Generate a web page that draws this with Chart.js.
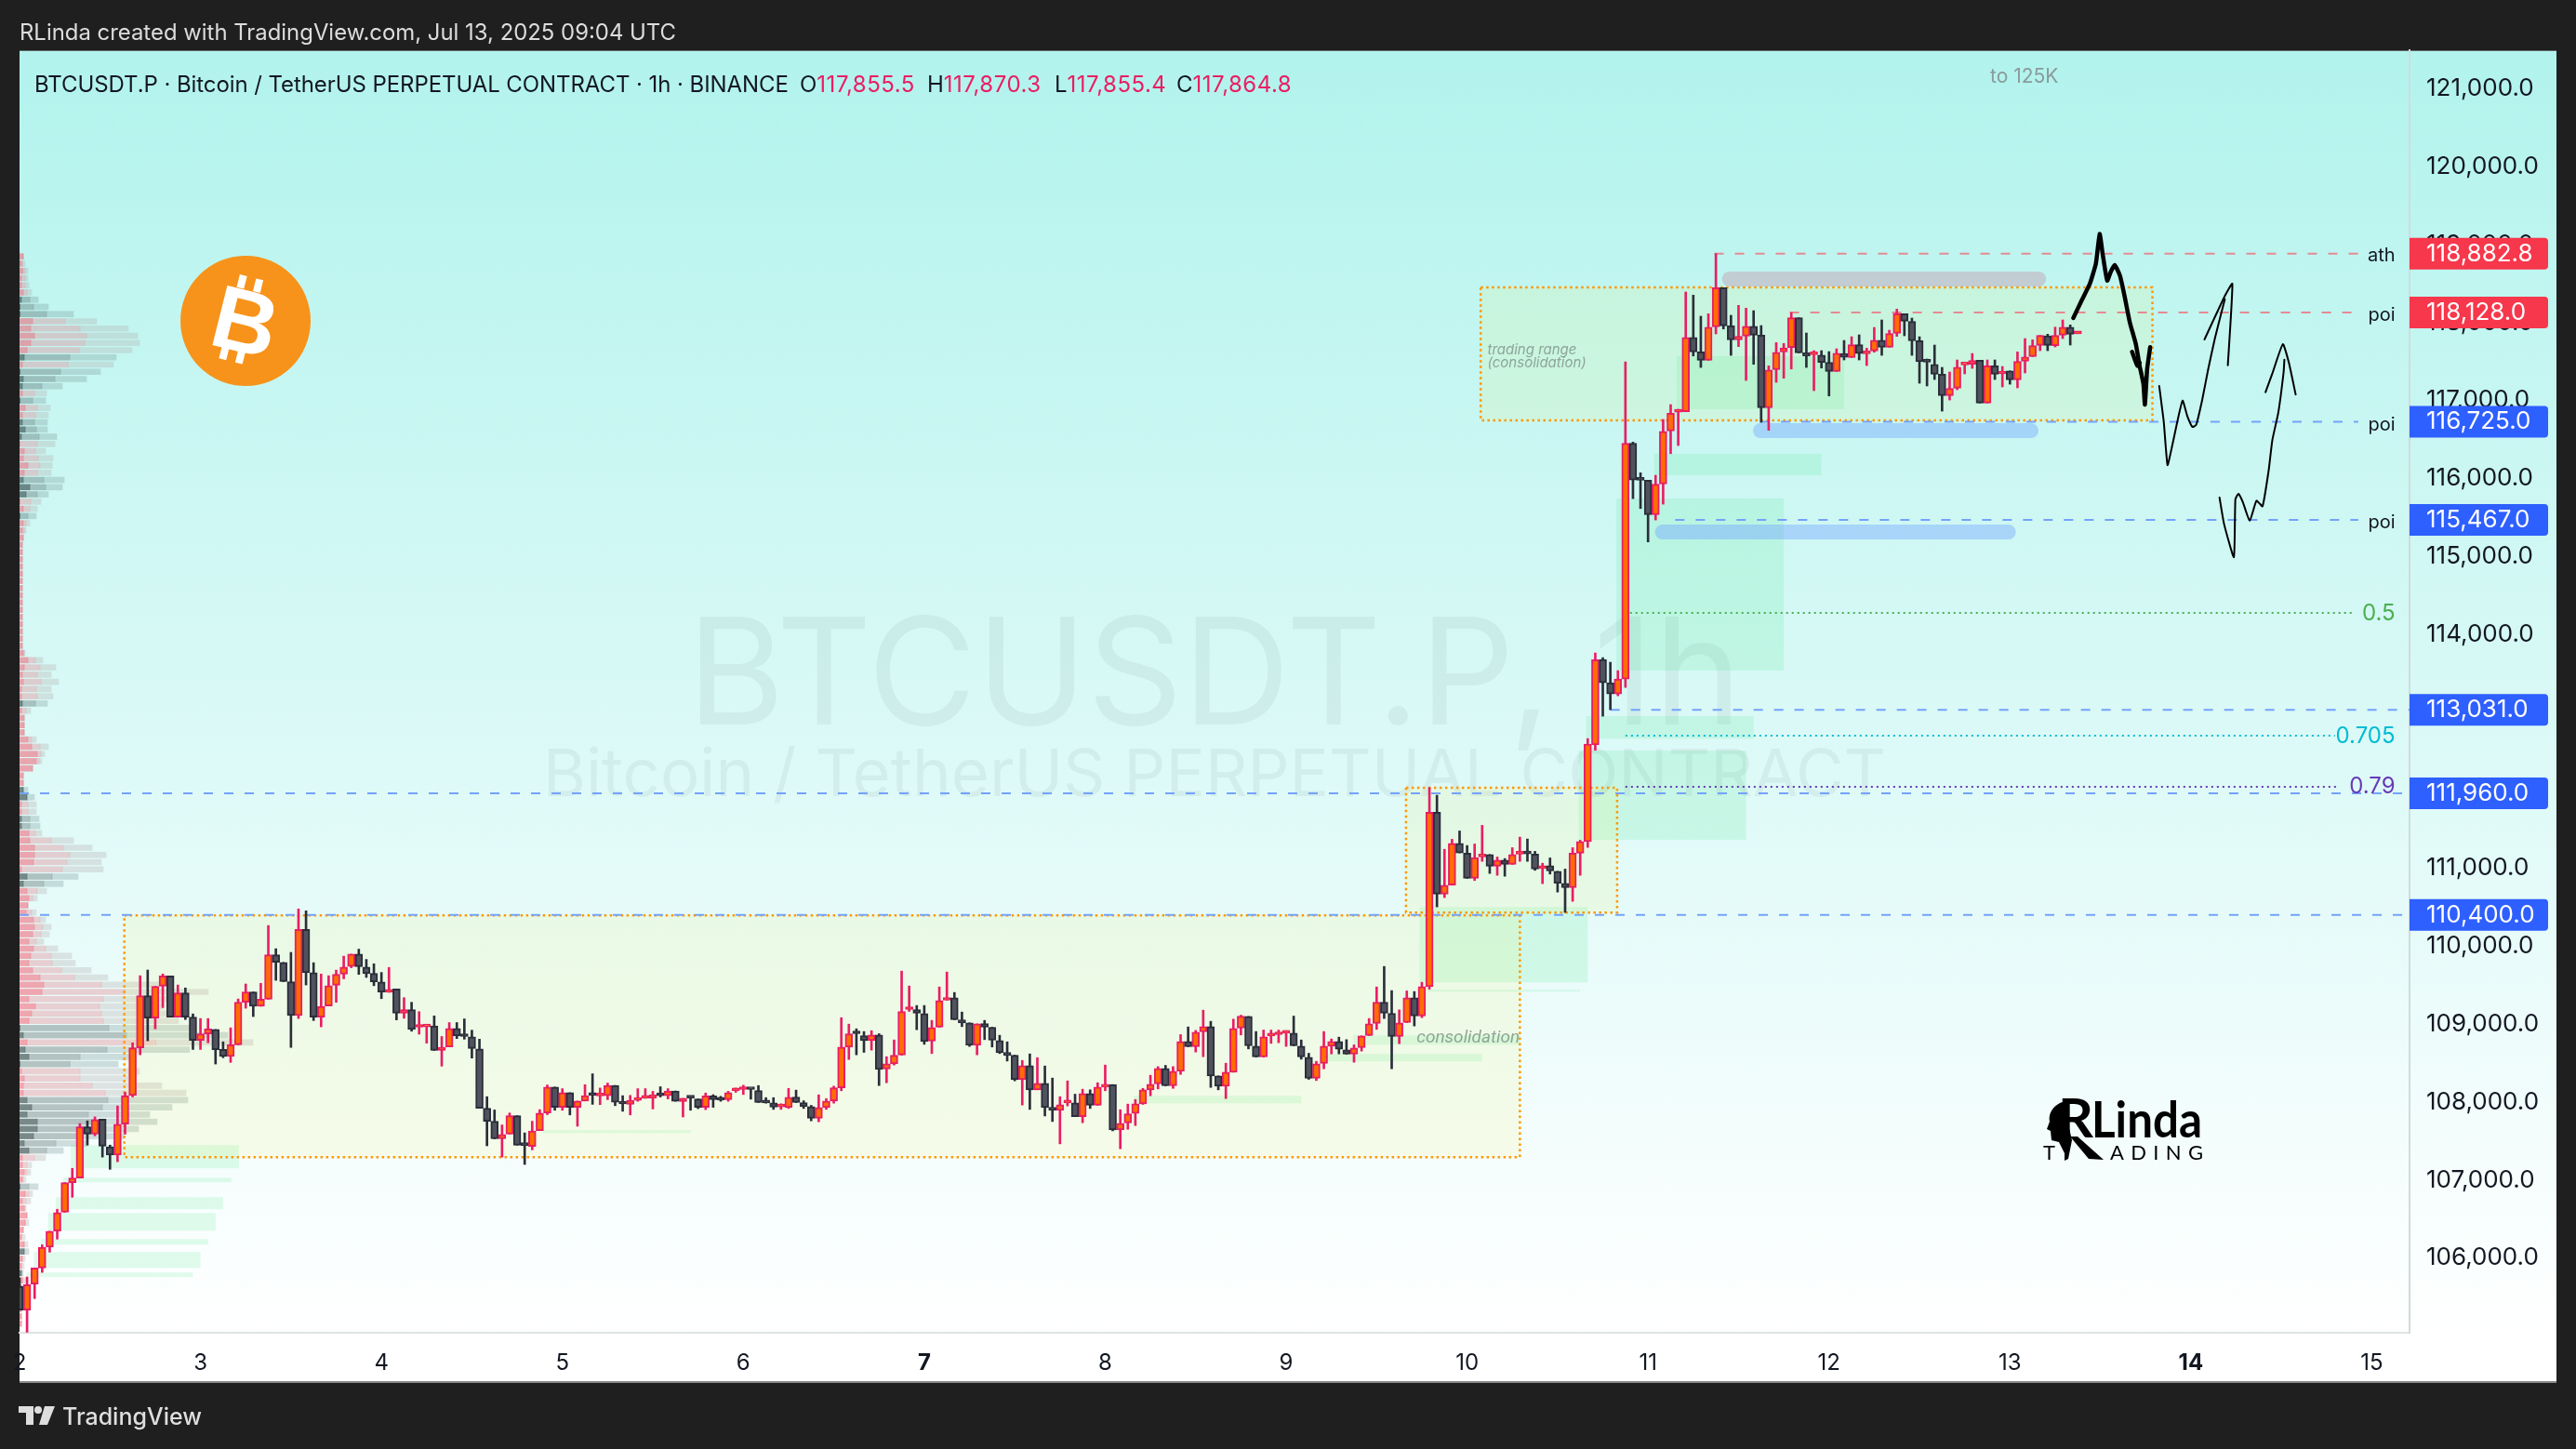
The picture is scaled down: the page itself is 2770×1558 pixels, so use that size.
<!DOCTYPE html>
<html>
<head>
<meta charset="utf-8">
<title>BTCUSDT.P 1h</title>
<script src="https://cdn.jsdelivr.net/npm/chart.js@4/dist/chart.umd.min.js"></script>
<style>
  html, body { margin: 0; padding: 0; background: #1f1f1f; width: 2770px; height: 1558px; overflow: hidden; font-family: Inter, sans-serif; }
  #panel { position: absolute; left: 21px; top: 54px; width: 2728px; height: 1433px; background: linear-gradient(#b2f3ed 0, #ffffff 1378px, #ffffff 100%); border-top: 1px solid #5d6a6a; box-sizing: border-box; border-bottom: 2px solid #8a8a8a; }
  canvas { position: absolute; left: 0; top: 0; }
  #header { position: absolute; left: 21px; top: 20px; color: #dcdcdc; font-size: 23.9px; white-space: nowrap; }
  #title { position: absolute; top: 76px; font-size: 24px; color: #131722; white-space: nowrap; }
  #title span { position: absolute; top: 0; white-space: nowrap; }
  .pink { color: #e91e63; font-weight: 400; letter-spacing: 0.5px; }
  #footer { position: absolute; left: 67px; top: 1508px; color: #dedede; font-size: 25px; font-weight: 500; white-space: nowrap; }
  svg { position: absolute; left: 0; top: 0; }
</style>
</head>
<body>
<div id="panel"></div>
<canvas id="profile" width="2770" height="1558"></canvas>
<canvas id="main" width="2770" height="1558"></canvas>

<div id="header">RLinda created with TradingView.com, Jul 13, 2025 09:04 UTC</div>
<div id="title">
  <span style="left:37px;letter-spacing:-0.08px">BTCUSDT.P · Bitcoin / TetherUS PERPETUAL CONTRACT · 1h · BINANCE</span>
  <span style="left:860px">O<b class="pink">117,855.5</b></span>
  <span style="left:997px">H<b class="pink">117,870.3</b></span>
  <span style="left:1134px">L<b class="pink">117,855.4</b></span>
  <span style="left:1265px">C<b class="pink">117,864.8</b></span>
</div>
<div id="footer">TradingView</div>

<svg width="2770" height="1558" viewBox="0 0 2770 1558">
  <!-- bitcoin badge -->
  <circle cx="264" cy="345" r="70" fill="#f7931a"/>
  <g transform="rotate(14 264 345)" fill="#fff">
    <text x="264" y="379" text-anchor="middle" font-family="Liberation Sans" font-weight="bold" font-size="96">B</text>
    <rect x="246" y="298" width="8" height="14"/><rect x="264" y="298" width="8" height="14"/>
    <rect x="246" y="377" width="8" height="14"/><rect x="264" y="377" width="8" height="14"/>
  </g>
  <!-- tradingview mark -->
  <path d="M20 1512H36V1519H36V1532H28V1519H20Z M48 1512L59 1512L51 1532L42 1532Z" fill="#dedede"/>
  <circle cx="41" cy="1516" r="4" fill="#dedede"/>
  <!-- rlinda mark -->
  <g fill="#000">
    <path d="M2222 1184C2208 1186 2202 1198 2204 1206L2201 1214L2205 1216L2206 1226L2214 1228L2220 1240L2220 1248L2224 1246L2228 1226L2222 1200Z"/>
    <text x="2213" y="1223" font-family="Lato" font-weight="bold" font-size="58" textLength="38" lengthAdjust="spacingAndGlyphs">R</text>
    <path d="M2226 1222L2234 1222L2262 1247L2246 1246Z"/>
    <text x="2249" y="1223" font-family="Lato" font-weight="bold" font-size="54" textLength="119" lengthAdjust="spacingAndGlyphs">Linda</text>
    <text x="2197" y="1247" font-family="Lato" font-size="22">T</text>
    <text x="2269" y="1247" font-family="Lato" font-size="22" textLength="100">ADING</text>
  </g>
</svg>

<script>
// --- candles, one per hour from Jul 2 00:00 UTC ---
const opens = [
  105635,105329,105665,105870,106138,106343,106586,106965,107025,107681,
  107587,107779,107426,107319,107715,108082,108696,109365,109075,109484,
  109616,109088,109399,109088,108789,108875,108930,108674,108585,108734,
  109279,109412,109228,109318,109889,109791,109544,109109,110213,109659,
  109088,109232,109496,109641,109739,109897,109731,109650,109539,109407,
  109449,109138,109185,108959,108963,108976,108661,108708,108942,108848,
  108836,108682,107919,107753,107527,107587,107825,107450,107429,107634,
  107859,108192,107932,108119,107932,108013,108094,108077,108081,108213,
  107983,107970,108021,108047,108051,108090,108081,108141,108005,108060,
  108039,107932,108077,108034,108030,108145,108160,108171,108148,108001,
  107989,107937,107929,108064,107993,107941,107790,107929,108012,108183,
  108705,108888,108852,108788,108860,108422,108490,108601,109186,109186,
  109134,108780,108959,109305,109337,109055,109015,108728,109007,108959,
  108788,108637,108601,108287,108466,108156,108239,107933,107893,107989,
  107989,107813,108108,107957,108191,108223,107642,107730,107853,107977,
  108156,108231,108430,108207,108394,108776,108709,108900,108967,108335,
  108203,108382,108947,109098,108717,108577,108848,108864,108884,108884,
  108717,108573,108303,108494,108717,108776,108669,108613,108697,108852,
  109007,109281,109138,108840,109019,109337,109102,109480,111716,110666,
  110781,111318,111191,110869,111143,111175,111024,111103,111048,111179,
  111191,111179,110996,111032,110960,110805,110749,111191,111341,112582,
  113677,113378,113235,113426,116449,115987,115975,115534,115927,116608,
  116850,116854,117809,117622,117515,117944,118446,117956,117777,117825,
  117952,117837,116906,117395,117622,117678,118060,117610,117586,117582,
  117487,117371,117602,117550,117714,117598,117634,117773,117682,117861,
  118111,118012,117765,117503,117463,117336,117061,117157,117455,117463,
  117515,116966,117443,117340,117379,117264,117503,117562,117706,117829,
  117702,117837,117940,117855.5
];
const closes = [
  105329,105657,105870,106138,106343,106582,106965,107025,107681,107587,
  107775,107434,107319,107715,108082,108696,109365,109075,109484,109616,
  109088,109399,109088,108789,108875,108938,108670,108585,108734,109279,
  109412,109228,109318,109889,109791,109544,109109,110213,109659,109088,
  109228,109492,109637,109731,109897,109735,109645,109543,109411,109445,
  109138,109185,108929,108972,108976,108661,108703,108942,108848,108840,
  108686,107919,107753,107527,107582,107825,107446,107442,107629,107859,
  108192,107932,108119,107932,108013,108081,108085,108085,108213,107996,
  107975,108021,108038,108060,108094,108081,108141,108009,108047,108051,
  107932,108077,108030,108026,108119,108162,108175,108160,107993,107989,
  107933,107949,108060,107993,107941,107790,107929,108012,108183,108705,
  108876,108876,108788,108860,108418,108490,108601,109162,109198,109138,
  108776,108955,109301,109337,109055,109015,108728,109003,108959,108792,
  108633,108597,108287,108466,108156,108239,107929,107893,107965,108005,
  107813,108108,107957,108191,108223,107642,107726,107849,107977,108156,
  108227,108430,108207,108394,108776,108709,108896,108967,108335,108203,
  108382,108943,109102,108720,108577,108836,108864,108880,108900,108720,
  108577,108303,108490,108717,108776,108677,108613,108693,108848,109003,
  109281,109138,108840,109015,109337,109102,109480,111716,110666,110781,
  111318,111195,110869,111135,111175,111024,111103,111048,111175,111191,
  111183,110988,111028,110964,110805,110749,111191,111342,112591,113673,
  113378,113235,113426,116449,115979,115975,115534,115927,116604,116834,
  116862,117809,117622,117515,117940,118446,117956,117777,117821,117952,
  117837,116906,117391,117618,117674,118060,117610,117570,117598,117487,
  117371,117606,117554,117714,117602,117630,117773,117682,117857,118111,
  118016,117765,117495,117491,117336,117061,117153,117427,117467,117511,
  116966,117443,117336,117375,117264,117499,117558,117702,117833,117706,
  117833,117940,117849,117864.8
];
const highs = [
  105742,105755,105870,106168,106343,106624,106965,107148,107724,107758,
  107809,107779,107447,107950,108124,108759,109620,109693,109484,109642,
  109616,109501,109463,109130,109071,109071,108930,108772,108951,109322,
  109514,109412,109522,110264,109966,109791,109919,110477,110452,109787,
  109642,109620,109692,109871,109897,109961,109829,109773,109662,109726,
  109449,109338,109279,109159,108976,109104,108840,109019,109019,109066,
  108921,108806,108068,107898,107706,107859,107825,107604,107753,107902,
  108218,108192,108171,108119,108013,108222,108362,108179,108243,108213,
  108081,108085,108171,108171,108137,108196,108171,108141,108047,108073,
  108039,108115,108094,108073,108137,108179,108215,108171,108211,108056,
  108056,107977,108175,108152,108016,107957,108092,108044,108203,109082,
  108999,108939,108904,108915,108876,108581,108796,109679,109488,109238,
  109238,109047,109476,109667,109405,109154,109015,109003,109047,108959,
  108856,108772,108601,108533,108617,108569,108462,108307,108068,108271,
  108100,108164,108156,108247,108474,108223,107901,107973,108032,108175,
  108343,108454,108470,108454,108864,108963,108919,109178,109035,108335,
  108498,109063,109114,109098,108904,108923,108923,108923,108915,109102,
  108796,108625,108522,108904,108808,108832,108800,108733,108848,109071,
  109476,109739,109429,109182,109425,109417,109536,112034,111935,111242,
  111370,111477,111290,111310,111549,111175,111143,111123,111262,111398,
  111374,111215,111063,111131,110960,110988,111262,111358,112662,113760,
  113700,113641,113533,117495,116465,116071,115975,116039,116755,116946,
  116886,118390,118350,118080,118111,118883,118446,118092,118219,118183,
  118151,117960,117443,117741,117730,118127,118060,117865,117638,117638,
  117626,117662,117769,117817,117841,117670,117936,118032,117901,118171,
  118111,118056,117817,117531,117710,117423,117364,117519,117467,117602,
  117515,117519,117519,117435,117379,117622,117793,117777,117833,117849,
  117940,118032,117968,117870.3
];
const lows = [
  105329,105047,105478,105814,106074,106241,106586,106778,107025,107447,
  107566,107293,107136,107234,107587,108065,108606,108785,108938,109211,
  109088,109088,109058,108674,108674,108759,108487,108568,108508,108734,
  109203,109096,109228,109318,109561,109544,108700,109071,109501,109045,
  108964,109232,109279,109581,109722,109637,109598,109492,109326,109407,
  109053,109074,108908,108870,108755,108661,108460,108708,108814,108806,
  108563,107919,107438,107527,107293,107587,107446,107199,107386,107634,
  107838,107894,107894,107834,107689,108013,107970,107966,108030,107953,
  107881,107834,108009,108047,107911,108064,108039,108009,107808,107894,
  107915,107902,107932,108009,108009,108124,108096,108036,107993,107985,
  107905,107905,107917,107993,107917,107758,107746,107905,107985,108144,
  108545,108605,108637,108665,108211,108247,108474,108601,109162,108927,
  108740,108621,108959,109305,109055,108967,108713,108605,108800,108705,
  108621,108525,108271,107961,107905,108156,107821,107750,107463,107949,
  107813,107734,107917,107957,108144,107630,107400,107650,107698,107969,
  108080,108168,108207,108175,108354,108709,108641,108581,108187,108156,
  108044,108382,108860,108681,108577,108577,108752,108760,108713,108720,
  108549,108291,108275,108426,108617,108617,108613,108510,108653,108852,
  108931,109071,108426,108748,109019,108975,109082,109448,110503,110622,
  110781,111195,110869,110841,111087,110932,110908,110896,111048,111087,
  111087,110972,110801,110924,110693,110431,110574,110908,111266,112511,
  112949,113032,113211,113319,115740,115613,115184,115466,115669,116317,
  116421,116854,117570,117423,117515,117853,117916,117578,117690,117256,
  117463,116719,116616,117232,117284,117403,117610,117423,117125,117415,
  117057,117371,117519,117550,117519,117447,117618,117578,117682,117821,
  117829,117578,117220,117185,117268,116862,117005,117137,117340,117411,
  116966,116966,117268,117173,117208,117161,117352,117562,117638,117638,
  117686,117793,117710,117855.4
];

// --- axes ---
const dayLabels = ['2','3','4','5','6','7','8','9','10','11','12','13','14','15'];
const boldDays = ['7','14'];
const hoursPerDay = 24;
const priceMin = 105040;
const priceMax = 121492;
const hourMax = 317;
const priceTicks = [106000,107000,108000,109000,110000,111000,112000,113000,114000,115000,116000,117000,118000,119000,120000,121000];

// --- price tags on the axis ---
const tagPrices = [118882.8, 118128.0, 116725.0, 115467.0, 113031.0, 111960.0, 110400.0];
const tagColors = ['#f7374b', '#f7374b', '#2e5fff', '#2e5fff', '#2e5fff', '#2e5fff', '#2e5fff'];

// --- dashed levels ---
const levelPrices = [118882.8, 118128.0, 116725.0, 115467.0, 113031.0, 111960.0, 110400.0];
const levelStart = [224.8, 234.8, 230.9, 219.6, 211, 0, 0];
const levelEnd = [310.2, 310.2, 310.2, 310.2, 317, 317, 317];
const levelColors = ['#e58a92', '#e58a92', '#74a2fb', '#74a2fb', '#74a2fb', '#74a2fb', '#74a2fb'];

// --- dotted fib levels ---
const fibPrices = [114273, 112698, 112042];
const fibStart = [213.6, 213, 213];
const fibEnd = [309.6, 307.1, 307.5];
const fibColors = ['#4caf50', '#00bcd4', '#673ab7'];

// --- green zones ---
const zoneStart = [6.8,5.8,4.8,3.8,2.8,1.9,0.9,69.4,147.8,173.5,176.9,185.7,186.9,206.8,207.8,211.8,216.8,219.8];
const zoneEnd = [29.1,28.1,27,26,25,24,23,89,170,194,199,208,207,229,230,234,239,242];
const zoneTop = [107447,107030,106779,106576,106242,106075,105813,107638,108080,108617,108856,110502,109440,112507,112949,115741,116314,117567];
const zoneBottom = [107149,106970,106624,106350,106171,105872,105753,107603,107984,108521,108736,109536,109416,111362,112662,113533,116039,116886];

// --- orange consolidation boxes ---
const boxStart = [13.9, 183.9, 193.8];
const boxEnd = [199, 211.9, 282.9];
const boxTop = [110395, 112030, 118450];
const boxBottom = [107292, 110431, 116743];

// --- thick rounded markers ---
const pillStart = [226.8, 230.9, 217.9];
const pillEnd = [267.8, 266.8, 263.8];
const pillPrices = [118557, 116612, 115311];
const pillColors = ['rgba(195,163,182,0.5)', 'rgba(120,170,255,0.45)', 'rgba(120,170,255,0.45)'];

// --- hand drawn projections ---
const brushHours = [272.4,273.5,274.6,275.4,275.9,276.3,276.9,277.4,277.9,278.6,279.2,279.9,280.7,281.2,281.7,281.9,282.2,282.6];
const brushPrices = [118056,118279,118497,118756,119134,118876,118537,118656,118736,118597,118339,118000,117722,117444,117212,116946,117403,117682];
const brushTickHours = [280.2,280.9,281.2];
const brushTickPrices = [117623,117444,117483];
const pathOneHours = [283.8,284.4,284.9,285.5,286.2,286.9,287.5,288.2,288.7,289.5,290.3,291.2,292.5];
const pathOnePrices = [117185,116728,116170,116409,116728,116998,116806,116660,116687,117006,117403,117802,118298];
const headOneHours = [289.8,292.5,293.5,292.9];
const headOnePrices = [117781,118339,118497,117451];
const pathTwoHours = [291.8,292.4,293.7,293.9,294.3,294.9,295.8,296.7,297.5,298.3,298.8,299.6,300.3,300.4];
const pathTwoPrices = [115753,115415,114989,115733,115801,115693,115455,115713,115642,116091,116489,116847,117364,117523];
const headTwoHours = [297.9,298.8,300.2,301,301.9];
const headTwoPrices = [117105,117344,117722,117483,117074];

// --- text notes on the chart ---
const noteText = ['ath','poi','poi','poi','0.5','0.705','0.79','to 125K','trading range','(consolidation)','consolidation'];
const noteHours = [315.1,315.1,315.1,315.1,315.1,315.1,315.1,265.9,194.7,194.7,185.3];
const notePrices = [118855,118092,116687,115431,114260,112686,112042,121147,117650,117480,108820];
const noteColors = ['#131722','#131722','#131722','#131722','#4caf50','#00bcd4','#673ab7','#8a9a9a','rgba(90,100,100,0.55)','rgba(90,100,100,0.55)','rgba(90,110,105,0.6)'];
const noteAlign = ['right','right','right','right','right','right','right','center','left','left','left'];
const noteFont = ['20px Inter','20px Inter','20px Inter','20px Inter','24px Inter','24px Inter','24px Inter','21px Inter','italic 15px Inter','italic 15px Inter','italic 19px Roboto'];

// --- volume profile rows, top to bottom ---
const vpTop = 118847;
const vpRowStep = 92.5;
const vpInner = [
  12,6,10,6,6,12,6,2,2,42,36,48,36,24,15,9,2,12,9,9,2,18,9,9,18,6,2,15,12,27,15,12,33,21,2,12,2,12,9,12,
  9,9,9,9,9,9,9,9,9,9,9,9,9,9,9,
  12,27,15,9,12,6,6,9,6,15,15,15,27,39,57,54,42,12,12,12,24,6,6,6,6,30,
  33,48,48,45,6,24,12,24,30,27,21,45,48,42,30,45,36,30,42,66,78,72,30,51,39,30,2,12,24,18,30,2,6,15,12,12,24,39,24,57,57,45,15,30,
  9,9,15,9,2,18,9,15,24,18,12,6,15,15,9,6,6,9,6,6,6,6,6,6
];
const vpMid = [
  12,10,18,18,18,24,33,45,87,147,195,216,210,192,162,156,132,114,72,48,42,57,51,48,54,63,57,51,60,66,57,78,84,57,36,33,27,21,15,12,
  9,9,9,9,9,9,9,9,9,9,9,9,9,9,9,
  15,51,66,57,69,54,57,51,21,15,15,15,39,66,69,63,42,12,12,12,24,27,27,33,33,51,
  102,141,162,153,138,105,78,57,42,27,39,66,75,69,54,84,102,105,135,177,264,339,270,258,264,270,288,345,440,282,195,162,195,195,234,276,285,267,222,240,220,200,117,87,
  48,24,24,12,30,30,21,18,24,18,12,6,15,15,9,6,6,12,6,6,6,6,6,6
];
const vpOuter = [
  12,18,27,27,30,39,60,93,174,249,351,381,387,363,312,303,261,216,138,87,84,99,93,90,90,120,114,84,108,105,102,144,138,93,69,57,54,33,21,12,
  9,9,9,9,9,9,9,9,9,9,9,9,9,9,9,
  18,75,117,102,126,102,108,90,36,15,15,15,54,93,81,72,42,12,12,27,48,54,54,63,66,72,
  174,234,279,264,270,189,141,87,57,27,54,84,102,96,78,123,168,180,231,285,450,609,510,465,490,513,550,672,753,549,360,318,387,360,459,537,543,492,420,444,384,336,220,141,
  84,39,36,21,60,42,36,21,24,30,12,18,27,30,18,15,12,24,9,6,6,6,6,6
];
const vpSide = (
  'rrrrrrgggrrrrrgrgggrgrrgggrrrrrgggrrgrrr' +
  'rrrrrrrrrrrrrrr' +
  'rrrrrrrgrrrrrrrrrrrggrrggr' +
  'rrrrrgg' + 'rrrrrrrrrrrrrrrrrrr' + 'ggrgggrrrrgggggggg' +
  'rrrrgrrrrrrrrgrrgrrrrrrr'
).split('');

// colours used by the candles and the profile
const upBody = '#ff6d00', upLine = '#e91e63', downBody = '#50535e', downLine = '#2a2e39';
const vpColors = {
  r: ['rgba(242,80,100,0.5)', 'rgba(225,140,150,0.4)', 'rgba(180,170,170,0.3)'],
  g: ['rgba(40,60,60,0.6)', 'rgba(90,110,110,0.4)', 'rgba(120,150,150,0.3)']
};

function lineSet(xs, ys, color, width, extra) {
  return Object.assign({
    type: 'line',
    data: xs.map((x, i) => ({ x, y: ys[i] })),
    borderColor: color,
    borderWidth: width,
    pointRadius: 0,
    fill: false,
    order: 3
  }, extra);
}

function rectSet(x0, x1, top, bottom, extra) {
  return lineSet([x0, x1, x1, x0, x0], [top, top, bottom, bottom, top], 'rgba(0,0,0,0)', 0, Object.assign({ fill: 'shape' }, extra));
}

// --- build main chart datasets ---
const hours = opens.map((_, i) => i);
const isUp = hours.map(h => closes[h] >= opens[h]);
const datasets = [];

zoneStart.forEach((x, i) => {
  datasets.push(rectSet(x, zoneEnd[i], zoneTop[i], zoneBottom[i], { backgroundColor: 'rgba(40,225,110,0.13)', order: 6 }));
});
boxStart.forEach((x, i) => {
  datasets.push(rectSet(x, boxEnd[i], boxTop[i], boxBottom[i], {
    backgroundColor: 'rgba(255,240,60,0.1)', borderColor: '#ff9800', borderWidth: 2.5, borderDash: [2.5, 3.5], order: 5
  }));
});
levelPrices.forEach((p, i) => {
  datasets.push(lineSet([levelStart[i], levelEnd[i]], [p, p], levelColors[i], 2, { borderDash: [10, 12], order: 4 }));
});
fibPrices.forEach((p, i) => {
  datasets.push(lineSet([fibStart[i], fibEnd[i]], [p, p], fibColors[i], 2, { borderDash: [2, 4], order: 4 }));
});
pillPrices.forEach((p, i) => {
  datasets.push(lineSet([pillStart[i], pillEnd[i]], [p, p], pillColors[i], 16, { borderCapStyle: 'round', order: 4 }));
});

datasets.push({
  type: 'bar',
  data: hours.map(h => ({ x: h, y: [lows[h], highs[h]] })),
  backgroundColor: isUp.map(u => u ? upLine : downLine),
  barThickness: 2,
  grouped: false,
  order: 2
});
datasets.push({
  type: 'bar',
  data: hours.map(h => ({ x: h, y: [opens[h], closes[h]] })),
  backgroundColor: isUp.map(u => u ? upBody : downBody),
  borderColor: isUp.map(u => u ? upLine : downLine),
  borderWidth: 2,
  borderSkipped: false,
  minBarLength: 3,
  barThickness: 8,
  grouped: false,
  order: 1
});

const inkOpts = { borderCapStyle: 'round', borderJoinStyle: 'round', tension: 0.15, order: 0 };
datasets.push(lineSet(brushHours, brushPrices, '#000', 4.5, inkOpts));
datasets.push(lineSet(brushTickHours, brushTickPrices, '#000', 4.5, inkOpts));
datasets.push(lineSet(pathOneHours, pathOnePrices, '#000', 2, inkOpts));
datasets.push(lineSet(headOneHours, headOnePrices, '#000', 2, inkOpts));
datasets.push(lineSet(pathTwoHours, pathTwoPrices, '#000', 2, inkOpts));
datasets.push(lineSet(headTwoHours, headTwoPrices, '#000', 2, inkOpts));

// symbol watermark goes behind everything
const watermarkPlugin = {
  id: 'watermark',
  beforeDatasetsDraw(chart) {
    const { ctx, chartArea: a } = chart;
    const cx = (a.left + a.right) / 2;
    ctx.save();
    ctx.fillStyle = 'rgba(42,46,57,0.06)';
    ctx.textAlign = 'center';
    ctx.textBaseline = 'middle';
    ctx.font = '160px Inter';
    ctx.fillText('BTCUSDT.P, 1h', cx, a.top + 677);
    ctx.font = '70.7px Inter';
    ctx.fillText('Bitcoin / TetherUS PERPETUAL CONTRACT', cx, a.top + 781);
    ctx.restore();
  }
};

// notes and axis tags go on top
const labelsPlugin = {
  id: 'labels',
  afterDraw(chart) {
    const { ctx, scales: { x, y } } = chart;
    ctx.save();
    ctx.textBaseline = 'middle';
    noteText.forEach((t, i) => {
      ctx.font = noteFont[i];
      ctx.fillStyle = noteColors[i];
      ctx.textAlign = noteAlign[i];
      ctx.fillText(t, x.getPixelForValue(noteHours[i]), y.getPixelForValue(notePrices[i]));
    });
    tagPrices.forEach((p, i) => {
      const py = y.getPixelForValue(p);
      ctx.fillStyle = tagColors[i];
      ctx.beginPath();
      ctx.roundRect(x.right, py - 17, 149, 34, [0, 4, 4, 0]);
      ctx.fill();
      ctx.fillStyle = '#fff';
      ctx.font = '26px Inter';
      ctx.textAlign = 'left';
      ctx.fillText(p.toLocaleString('en-US', { minimumFractionDigits: 1 }), x.right + 18, py);
    });
    ctx.restore();
  }
};

new Chart(document.getElementById('main'), {
  type: 'bar',
  data: { datasets },
  plugins: [watermarkPlugin, labelsPlugin],
  options: {
    responsive: false,
    animation: false,
    events: [],
    devicePixelRatio: 1,
    layout: { padding: { left: 21, right: 21, top: 54, bottom: 71 } },
    plugins: { legend: { display: false }, tooltip: { enabled: false } },
    scales: {
      x: {
        type: 'linear',
        offset: false,
        min: 0,
        max: hourMax,
        afterFit(scale) { scale.height = 54; },
        grid: { display: false, offset: false },
        border: { color: '#dfe3e3', width: 2 },
        ticks: {
          stepSize: hoursPerDay,
          includeBounds: false,
          autoSkip: false,
          maxRotation: 0,
          padding: 10,
          color: '#131722',
          font: ctx => {
            const label = ctx.tick ? dayLabels[ctx.tick.value / hoursPerDay] : '';
            return { family: 'Inter', size: 24, weight: boldDays.includes(label) ? '700' : '400' };
          },
          callback: v => dayLabels[v / hoursPerDay]
        }
      },
      y: {
        position: 'right',
        min: priceMin,
        max: priceMax,
        afterFit(scale) { scale.width = 158; },
        afterBuildTicks(scale) { scale.ticks = priceTicks.map(value => ({ value })); },
        grid: { display: false },
        border: { color: '#cfdcdc', width: 2 },
        ticks: {
          autoSkip: false,
          padding: 10,
          color: '#131722',
          font: { family: 'Inter', size: 26 },
          callback: v => v.toLocaleString('en-US', { minimumFractionDigits: 1 })
        }
      }
    }
  }
});

// --- volume profile sits in its own horizontal chart behind the candles ---
const vpRows = vpInner.map((_, i) => vpTop - i * vpRowStep);
const sideColor = layer => vpSide.map(s => vpColors[s === 'g' ? 'g' : 'r'][layer]);
const vpUnitsWide = 7710;

new Chart(document.getElementById('profile'), {
  type: 'bar',
  data: {
    datasets: [
      { data: vpRows.map((p, i) => ({ x: [0, vpInner[i]], y: p })), backgroundColor: sideColor(0) },
      { data: vpRows.map((p, i) => ({ x: [vpInner[i], vpMid[i]], y: p })), backgroundColor: sideColor(1) },
      { data: vpRows.map((p, i) => ({ x: [vpMid[i], vpOuter[i]], y: p })), backgroundColor: sideColor(2) }
    ]
  },
  options: {
    indexAxis: 'y',
    responsive: false,
    animation: false,
    events: [],
    devicePixelRatio: 1,
    layout: { padding: { left: 21, right: 179, top: 54, bottom: 125 } },
    datasets: { bar: { barThickness: 6, grouped: false } },
    plugins: { legend: { display: false }, tooltip: { enabled: false } },
    scales: {
      x: { type: 'linear', min: 0, max: vpUnitsWide, display: false },
      y: { type: 'linear', min: priceMin, max: priceMax, display: false, offset: false }
    }
  }
});
</script>
</body>
</html>
